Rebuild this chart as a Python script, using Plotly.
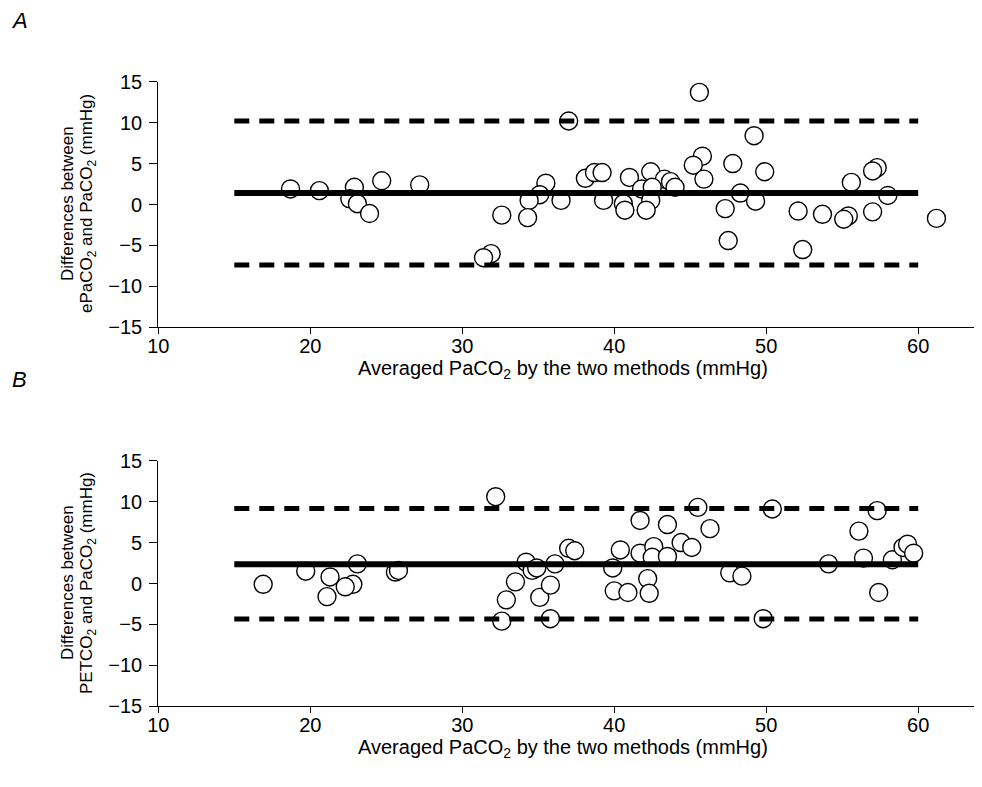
import plotly.graph_objects as go

# Panel A: ePaCO2 vs PaCO2 (Bland-Altman)
a_mean = [18.7, 20.6, 22.9, 22.6, 23.1, 23.9, 24.7, 27.2,
          45.6, 37.0, 49.2, 45.8, 45.2, 47.8, 49.9, 57.3, 57.0, 55.6,
          45.9, 38.1, 38.7, 39.2, 41.0, 42.4, 43.3, 43.7, 44.0, 41.8,
          42.5, 35.5, 35.1, 48.3, 58.0, 34.4, 36.5, 39.3, 40.6, 40.7,
          42.4, 42.1, 49.3, 47.3, 32.6, 34.3, 52.1, 53.7, 55.4, 55.1,
          57.0, 61.2, 47.5, 52.4, 31.9, 31.4]
a_diff = [1.9, 1.7, 2.1, 0.7, 0.1, -1.1, 2.9, 2.4,
          13.7, 10.2, 8.4, 5.9, 4.8, 5.0, 4.0, 4.5, 4.1, 2.7,
          3.1, 3.2, 3.9, 3.9, 3.3, 4.0, 3.1, 2.8, 2.1, 1.9,
          2.1, 2.6, 1.2, 1.4, 1.1, 0.5, 0.5, 0.5, 0.1, -0.7,
          0.5, -0.7, 0.4, -0.5, -1.3, -1.6, -0.8, -1.2, -1.4, -1.8,
          -0.9, -1.7, -4.4, -5.5, -6.0, -6.5]
a_bias, a_upper, a_lower = 1.4, 10.2, -7.4

# Panel B: PETCO2 vs PaCO2
b_mean = [16.9, 19.7, 21.3, 21.1, 23.1, 22.8, 22.3, 25.6, 25.8,
          32.2, 32.6, 32.9, 33.5, 34.2, 34.6, 34.9, 35.1, 35.8, 35.8,
          36.1, 37.0, 37.4, 39.9, 40.4, 40.0, 40.9, 41.7, 41.7, 42.6,
          42.5, 42.2, 42.3, 43.5, 43.5, 44.4, 45.1, 45.5, 46.3, 47.6,
          48.4, 49.8, 50.4, 54.1, 56.1, 56.4, 57.3, 57.4, 58.3, 59.0,
          59.3, 59.7]
b_diff = [-0.1, 1.5, 0.8, -1.6, 2.4, -0.1, -0.4, 1.4, 1.6,
          10.6, -4.6, -2.0, 0.2, 2.6, 1.6, 1.9, -1.7, -0.2, -4.3,
          2.4, 4.3, 4.0, 1.9, 4.1, -0.9, -1.1, 7.7, 3.7, 4.5,
          3.2, 0.6, -1.2, 7.2, 3.3, 5.0, 4.4, 9.3, 6.7, 1.3,
          0.9, -4.3, 9.1, 2.4, 6.4, 3.1, 8.9, -1.1, 2.9, 4.4,
          4.8, 3.7]
b_bias, b_upper, b_lower = 2.35, 9.15, -4.35

line_x = [15, 60]
x_ticks = [10, 20, 30, 40, 50, 60]
y_ticks = [-15, -10, -5, 0, 5, 10, 15]

# page has an 8px body margin, so the figure is a bit smaller than the window
OFF = 8
W, H = 974, 779
FONT = "Liberation Sans, Arial, sans-serif"


def px(p):
    return (p - OFF) / W


def py(p):
    return 1 - (p - OFF) / H


fig = go.Figure()


def add_panel(xs, ys, bias, upper, lower, xa, ya):
    fig.add_trace(go.Scatter(
        x=xs, y=ys, mode="markers", xaxis=xa, yaxis=ya,
        marker=dict(symbol="circle", size=18, color="white",
                    line=dict(color="black", width=1.4)),
        showlegend=False))
    for val, dash, w in [(upper, "15px,10px", 5), (lower, "15px,10px", 5),
                         (bias, "solid", 6)]:
        fig.add_trace(go.Scatter(
            x=line_x, y=[val, val], mode="lines", xaxis=xa, yaxis=ya,
            line=dict(color="black", width=w, dash=dash),
            showlegend=False))


add_panel(a_mean, a_diff, a_bias, a_upper, a_lower, "x", "y")
add_panel(b_mean, b_diff, b_bias, b_upper, b_lower, "x2", "y2")

common = dict(showline=True, linecolor="black", linewidth=1.3,
              ticks="outside", tickwidth=1.3, tickcolor="black",
              showgrid=False, zeroline=False, automargin=False,
              tickfont=dict(family=FONT, size=20, color="black"))
x_style = dict(common, range=[10, 64], tickvals=x_ticks, ticklen=6,
               ticklabelstandoff=-5, domain=[px(158.3), px(979)])
y_style = dict(common, range=[-15, 15], tickvals=y_ticks, ticklen=8,
               ticklabelstandoff=3)

fig.update_layout(
    width=W, height=H,
    margin=dict(l=0, r=0, t=0, b=0),
    paper_bgcolor="white", plot_bgcolor="white",
    xaxis=dict(x_style, anchor="y"),
    yaxis=dict(y_style, anchor="x", domain=[py(327.3), py(81.7)]),
    xaxis2=dict(x_style, anchor="y2"),
    yaxis2=dict(y_style, anchor="x2", domain=[py(706.3), py(460.7)]),
)

xt = "Averaged PaCO<sub>2</sub> by the two methods (mmHg)"
annos = [
    (19, 20, "<i>A</i>", 0, 22),
    (19, 379, "<i>B</i>", 0, 22),
    (563, 369, xt, 0, 20),
    (563, 748, xt, 0, 20),
    (67, 204, "Differences between", -90, 17),
    (88, 204, "ePaCO<sub>2</sub> and PaCO<sub>2</sub> (mmHg)", -90, 17),
    (67, 583, "Differences between", -90, 17),
    (88, 583, "PETCO<sub>2</sub> and PaCO<sub>2</sub> (mmHg)", -90, 17),
]
for x0, y0, txt, ang, sz in annos:
    fig.add_annotation(x=px(x0), y=py(y0), xref="paper", yref="paper",
                       text=txt, showarrow=False, textangle=ang,
                       xanchor="center", yanchor="middle",
                       font=dict(family=FONT, size=sz, color="black"))

fig.write_html("out.html")
